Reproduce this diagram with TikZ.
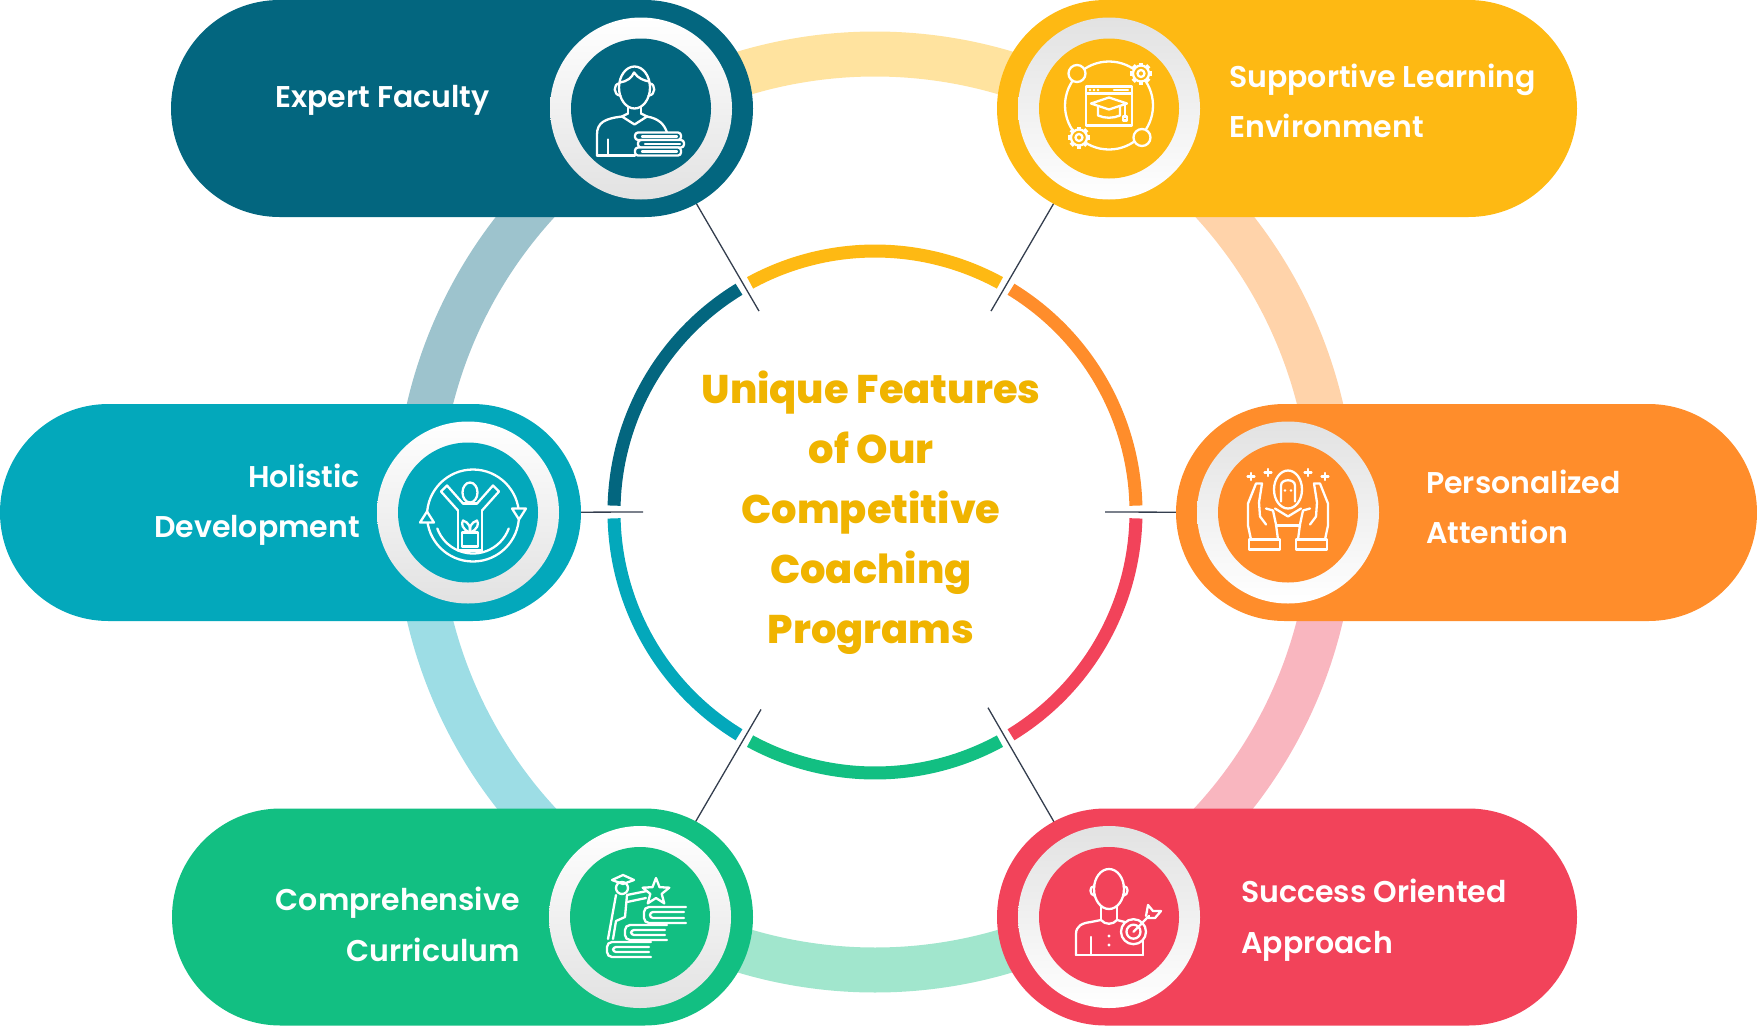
\documentclass[tikz,border=0pt]{standalone}
\usepackage{fontspec}
\setmainfont{Poppins}
\newfontfamily\lblfont{Poppins SemiBold}
\newfontfamily\ttlfont{Poppins ExtraBold}
\usetikzlibrary{shapes.misc}
\definecolor{cA}{HTML}{03667F}
\definecolor{cB}{HTML}{03A8BB}
\definecolor{cC}{HTML}{12BF82}
\definecolor{cD}{HTML}{F2435A}
\definecolor{cE}{HTML}{FF8D2B}
\definecolor{cF}{HTML}{FEB913}
\definecolor{lA}{HTML}{9DC3CD}
\definecolor{lB}{HTML}{9DDDE5}
\definecolor{lC}{HTML}{A1E6CD}
\definecolor{lD}{HTML}{F9B6BF}
\definecolor{lE}{HTML}{FFD3AA}
\definecolor{lF}{HTML}{FFE39F}
\definecolor{ttlc}{HTML}{F0B400}
\definecolor{connc}{HTML}{343E4E}
\definecolor{rg}{HTML}{E2E2E2}
\tikzset{
  pill/.style={rounded rectangle, minimum height=217pt, inner sep=0pt, draw=none},
  ringL/.style={circle, minimum size=182pt, inner sep=0pt, top color=white, bottom color=rg, draw=none},
  ringR/.style={circle, minimum size=182pt, inner sep=0pt, top color=rg, bottom color=white, draw=none},
  disk/.style={circle, minimum size=140pt, inner sep=0pt, draw=none},
  ic/.style={draw=white, line width=2.3pt, line cap=round, line join=round},
  lbl/.style={text=white, font=\lblfont\fontsize{30}{36}\selectfont, inner sep=0pt},
  ttl/.style={text=ttlc, font=\ttlfont\fontsize{40}{48}\selectfont, inner sep=0pt, anchor=base},
  conn/.style={draw=connc, line width=1.3pt},
  outerarc/.style={line width=45pt},
  innerarc/.style={line width=13pt}
}
\begin{document}
\begin{tikzpicture}[x=1pt,y=-1pt]
\useasboundingbox (0,0) rectangle (1757,1026);
\coordinate (O) at (875,512);
% ring centres
\coordinate (c1) at (641,108.5);
\coordinate (c2) at (1109,108.5);
\coordinate (c3) at (468,512.5);
\coordinate (c4) at (1288,512.5);
\coordinate (c5) at (640,917);
\coordinate (c6) at (1109,917);
% outer light ring
\draw[outerarc, lF] ([shift={(-60:458)}]O) arc[start angle=-60, end angle=-120, radius=458];
\draw[outerarc, lE] ([shift={(0:458)}]O) arc[start angle=0, end angle=-60, radius=458];
\draw[outerarc, lD] ([shift={(0:458)}]O) arc[start angle=0, end angle=60, radius=458];
\draw[outerarc, lC] ([shift={(60:458)}]O) arc[start angle=60, end angle=120, radius=458];
\draw[outerarc, lB] ([shift={(120:458)}]O) arc[start angle=120, end angle=180, radius=458];
\draw[outerarc, lA] ([shift={(180:458)}]O) arc[start angle=180, end angle=240, radius=458];
% connector start points
\coordinate (g1) at ([shift={(-120:232)}]O);
\coordinate (g2) at ([shift={(-60:232)}]O);
\coordinate (g3) at ([shift={(180:232)}]O);
\coordinate (g4) at ([shift={(0:230)}]O);
\coordinate (g5) at ([shift={(120:228)}]O);
\coordinate (g6) at ([shift={(60:226)}]O);
\draw[conn] (g1) -- (c1);
\draw[conn] (g2) -- (c2);
\draw[conn] (g3) -- (c3);
\draw[conn] (g4) -- (c4);
\draw[conn] (g5) -- (c5);
\draw[conn] (g6) -- (c6);
% inner coloured ring
\draw[innerarc, cF] ([shift={(-61.4:261)}]O) arc[start angle=-61.4, end angle=-118.6, radius=261];
\draw[innerarc, cE] ([shift={(-1.4:261)}]O) arc[start angle=-1.4, end angle=-58.6, radius=261];
\draw[innerarc, cD] ([shift={(1.4:261)}]O) arc[start angle=1.4, end angle=58.6, radius=261];
\draw[innerarc, cC] ([shift={(61.4:261)}]O) arc[start angle=61.4, end angle=118.6, radius=261];
\draw[innerarc, cB] ([shift={(121.4:261)}]O) arc[start angle=121.4, end angle=178.6, radius=261];
\draw[innerarc, cA] ([shift={(181.4:261)}]O) arc[start angle=181.4, end angle=238.6, radius=261];
% title
\node[ttl] (t1) at (871,403) {Unique Features};
\node[ttl] (t2) at (871,463) {of Our};
\node[ttl] (t3) at (871,523) {Competitive};
\node[ttl] (t4) at (871,583) {Coaching};
\node[ttl] (t5) at (871,643) {Programs};
% pills
\node[pill, fill=cA, minimum width=582pt] (p1) at (462,108.5) {};
\node[pill, fill=cF, minimum width=580pt] (p2) at (1287,108.5) {};
\node[pill, fill=cB, minimum width=581pt] (p3) at (290.5,512.5) {};
\node[pill, fill=cE, minimum width=581pt] (p4) at (1466.5,512.5) {};
\node[pill, fill=cC, minimum width=581pt] (p5) at (462.5,917) {};
\node[pill, fill=cD, minimum width=580pt] (p6) at (1287,917) {};
% rings and disks
\node[ringL] (r1) at (c1) {}; \node[disk, fill=cA] (d1) at (c1) {};
\node[ringR] (r2) at (c2) {}; \node[disk, fill=cF] (d2) at (c2) {};
\node[ringL] (r3) at (c3) {}; \node[disk, fill=cB] (d3) at (c3) {};
\node[ringR] (r4) at (c4) {}; \node[disk, fill=cE] (d4) at (c4) {};
\node[ringL] (r5) at (c5) {}; \node[disk, fill=cC] (d5) at (c5) {};
\node[ringR] (r6) at (c6) {}; \node[disk, fill=cD] (d6) at (c6) {};
% icon 1: expert faculty
\begin{scope}[shift={(c1)}]
\draw[ic] (-6.5,-21) ellipse[x radius=15.5, y radius=21];
\draw[ic] (-21,-26) .. controls (-14,-27) and (-9,-31) .. (-7,-36) .. controls (-3,-30) and (3,-28) .. (8,-27);
\draw[ic] (-21.5,-25) .. controls (-28,-25) and (-28,-13) .. (-20.5,-13);
\draw[ic] (8.5,-25) .. controls (15,-25) and (15,-13) .. (7.5,-13);
\draw[ic] (-13,-1) -- (-13,5) (0,-1) -- (0,5);
\draw[ic] (-13,5) -- (-19,8) -- (-6.5,16) -- (6,8) -- (0,5);
\draw[ic] (-44,47) -- (-44,26) .. controls (-44,14) and (-36,10) .. (-19,8);
\draw[ic] (6,8) .. controls (17,10) and (23,15) .. (26,24);
\draw[ic] (-33,31) -- (-33,47);
\draw[ic] (-44,47) -- (-6,47);
\draw[ic, fill=cA, rounded corners=3pt] (-6,24) rectangle (40,31.5);
\draw[ic, fill=cA, rounded corners=3pt] (-3,31.5) rectangle (43,39);
\draw[ic, fill=cA, rounded corners=3pt] (-6,39) rectangle (40,47);
\draw[ic] (1,28) -- (36,28) (4,35.5) -- (39,35.5) (1,43) -- (36,43);
\end{scope}
% icon 2: supportive learning environment
\begin{scope}[shift={(c2)}]
\draw[ic] (0,-3) circle[radius=44];
\filldraw[ic, fill=cF] (-32,-35) circle[radius=8.5];
\filldraw[ic, fill=cF] (33,29) circle[radius=8.5];
\foreach \px/\py in {32/-35,-30/29} {
  \begin{scope}[shift={(\px,\py)}]
  \foreach \a in {0,45,...,315} {\draw[white, line width=4.5pt] (\a:6) -- (\a:11);}
  \filldraw[ic, fill=cF] (0,0) circle[radius=8];
  \draw[ic] (0,0) circle[radius=3.5];
  \end{scope}
}
\filldraw[ic, fill=cF] (-23,-22) rectangle (23,17);
\draw[ic] (-23,-15) -- (23,-15);
\fill[white] (-19,-18.5) circle[radius=1.3] (-15,-18.5) circle[radius=1.3] (-11,-18.5) circle[radius=1.3];
\draw[ic] (5,-18.5) -- (19,-18.5);
\draw[ic] (-18,-5) -- (0,-11) -- (18,-5) -- (0,1) -- cycle;
\draw[ic] (-11,-2) -- (-11,7) .. controls (-4,10) and (4,10) .. (11,7) -- (11,-2);
\draw[ic] (16,-5) -- (16,8);
\draw[ic] (14,8) rectangle (18,12);
\end{scope}
% icon 3: holistic development
\begin{scope}[shift={(c3)}]
\draw[ic] (5,3) circle[radius=46];
\draw[ic] ([shift={(160:38)}]5,3) arc[start angle=160, end angle=20, radius=38];
\filldraw[ic, fill=cB] (-48,10) -- (-41,-1) -- (-34,10) -- cycle;
\filldraw[ic, fill=cB] (44,-4) -- (51,7) -- (58,-4) -- cycle;
\draw[ic] (2,-20) ellipse[x radius=7.5, y radius=10];
\draw[ic] (-10,-2) -- (-27,-21) -- (-21,-27) -- (-5,-9);
\draw[ic] (14,-2) -- (31,-21) -- (25,-27) -- (9,-9);
\draw[ic] (-5,-9) -- (9,-9);
\draw[ic] (-10,-2) -- (-10,38) -- (14,38) -- (14,-2);
\draw[ic] (-6,20) rectangle (10,34);
\draw[ic] (2,20) .. controls (-6,17) and (-7,11) .. (-5,8) .. controls (1,10) and (3,15) .. (2,20);
\draw[ic] (2,20) .. controls (10,17) and (11,11) .. (9,8) .. controls (3,10) and (1,15) .. (2,20);
\end{scope}
% icon 4: personalized attention
\begin{scope}[shift={(c4)}]
\foreach \qx/\qy in {-37/-36,-20/-40,20/-40,37/-36} {\draw[ic] (\qx-3.5,\qy) -- (\qx+3.5,\qy) (\qx,\qy-3.5) -- (\qx,\qy+3.5);}
\draw[ic] (0,-23) ellipse[x radius=14, y radius=19];
\draw[ic] (-7,-11) -- (-7,-27) .. controls (-7,-34) and (7,-34) .. (7,-27) -- (7,-11);
\fill[white] (-3,-22) circle[radius=1.3] (3,-22) circle[radius=1.3];
\draw[ic] (-13,-4) -- (0,4) -- (13,-4);
\foreach \s in {1,-1} {
  \begin{scope}[xscale=\s]
  \draw[ic] (-37,27) -- (-40,13) -- (-40,-9) -- (-32,-29) -- (-26,-29) -- (-29,-10) -- (-28,4) -- (-22,12);
  \draw[ic] (-22,-4) -- (-15,-2) -- (-12,12) -- (-10,27);
  \draw[ic] (-39,27) rectangle (-8,37);
  \end{scope}
}
\draw[ic] (-12,13) -- (12,13);
\end{scope}
% icon 5: comprehensive curriculum
\begin{scope}[shift={(c5)}]
\draw[ic, rounded corners=5pt] (46,-10) -- (4,-10) -- (4,6) -- (46,6);
\draw[ic, rounded corners=3pt] (44,-5) -- (10,-5) -- (10,1) -- (44,1);
\draw[ic, rounded corners=5pt] (27,8) -- (-15,8) -- (-15,23) -- (27,23);
\draw[ic, rounded corners=3pt] (25,13) -- (-9,13) -- (-9,18) -- (25,18);
\draw[ic, rounded corners=5pt] (11,25) -- (-33,25) -- (-33,40) -- (11,40);
\draw[ic, rounded corners=3pt] (9,30) -- (-27,30) -- (-27,35) -- (9,35);
\draw[ic] (-18,-29) circle[radius=6];
\draw[ic] (-28,-37) -- (-17,-42) -- (-6,-37) -- (-17,-33) -- cycle;
\draw[ic] (-24,-22) -- (-32,22);
\draw[ic] (-13,-22) -- (7,-26);
\draw[ic] (-13,-15) -- (6,-19);
\draw[ic] (-13,-22) -- (-15,0) -- (-24,4) -- (-27,22);
\draw[ic, shift={(16,-25)}] (-90:14) -- (-54:6) -- (-18:14) -- (18:6) -- (54:14) -- (90:6) -- (126:14) -- (162:6) -- (198:14) -- (234:6) -- cycle;
\end{scope}
% icon 6: success oriented approach
\begin{scope}[shift={(c6)}]
\draw[ic] (0,-28) ellipse[x radius=15, y radius=20];
\draw[ic] (-14.5,-31) .. controls (-20,-31) and (-20,-22) .. (-14,-21);
\draw[ic] (14.5,-31) .. controls (20,-31) and (20,-22) .. (14,-21);
\draw[ic] (-8,-10) -- (-8,3) (8,-10) -- (8,3);
\draw[ic] (-33,38) -- (-33,17) .. controls (-33,9) and (-27,6) .. (-18,5) -- (-8,3) .. controls (-4,8) and (4,8) .. (8,3) -- (16,5);
\draw[ic] (34,24) -- (34,38);
\draw[ic] (-33,38) -- (34,38);
\draw[ic] (-18,20) -- (-18,38);
\fill[white] (0,19) circle[radius=1.7] (0,28) circle[radius=1.7];
\filldraw[ic, fill=cD] (24.5,14.7) circle[radius=12.5];
\draw[ic] (24.5,14.7) circle[radius=7];
\draw[ic] (24.5,14.7) -- (40,-1);
\draw[ic] (37,-1) -- (39,-12) -- (44,-6) -- (52,-6) -- (46,1) -- (39,1);
\end{scope}
% labels
\node[lbl, anchor=base west] (l1) at (275,107) {Expert Faculty};
\node[lbl, anchor=base west] (l2a) at (1229,87) {Supportive Learning};
\node[lbl, anchor=base west] (l2b) at (1229,137) {Environment};
\node[lbl, anchor=base east] (l3a) at (360,487) {Holistic};
\node[lbl, anchor=base east] (l3b) at (360,537) {Development};
\node[lbl, anchor=base west] (l4a) at (1426,493) {Personalized};
\node[lbl, anchor=base west] (l4b) at (1426,543) {Attention};
\node[lbl, anchor=base east] (l5a) at (520,910) {Comprehensive};
\node[lbl, anchor=base east] (l5b) at (520,961) {Curriculum};
\node[lbl, anchor=base west] (l6a) at (1241,902) {Success Oriented};
\node[lbl, anchor=base west] (l6b) at (1241,953) {Approach};
\end{tikzpicture}
\end{document}
